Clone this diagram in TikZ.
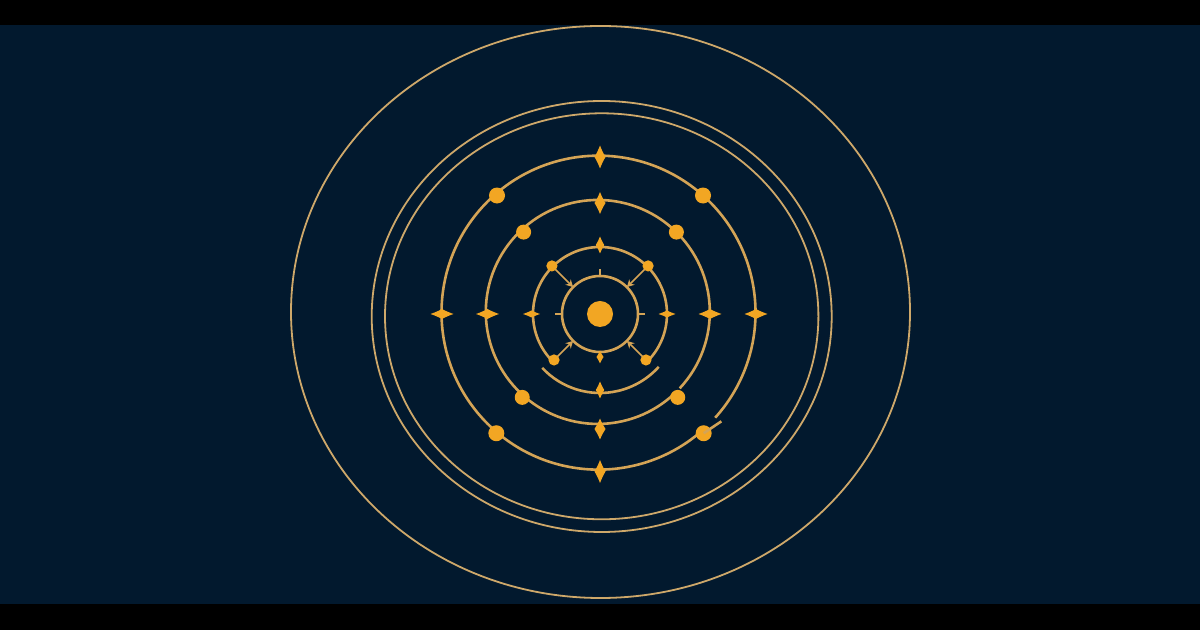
\documentclass[tikz,border=0pt]{standalone}
\usetikzlibrary{arrows.meta}
\definecolor{bgnavy}{RGB}{2,25,46}
\definecolor{ringc}{RGB}{212,164,86}
\definecolor{outerc}{RGB}{206,168,106}
\definecolor{dotc}{RGB}{242,166,35}
\tikzset{
  ring/.style={draw=ringc, line width=1.3mm},
  outerring/.style={draw=outerc, line width=0.9mm},
  dotnode/.style={circle, fill=dotc, inner sep=0pt, minimum size=#1},
  ptr/.style={draw=ringc, line width=0.8mm, shorten <=-0.5mm, -{Stealth[length=3.6mm,width=3.8mm]}},
}
\newcommand\gem[3]{%
  \fill[dotc, shift={(#1)}, xscale=#2, yscale=#3]
    (0,1) .. controls (0.3,0.62) and (0.62,0.3) .. (1,0)
          .. controls (0.62,-0.3) and (0.3,-0.62) .. (0,-1)
          .. controls (-0.3,-0.62) and (-0.62,-0.3) .. (-1,0)
          .. controls (-0.62,0.3) and (-0.3,0.62) .. (0,1) -- cycle;}
\begin{document}
\begin{tikzpicture}[x=0.5mm,y=0.5mm]
\useasboundingbox (0,0) rectangle (1200,630);
\fill[black] (0,0) rectangle (1200,630);
\fill[bgnavy] (0,26) rectangle (1200,605);

% outer ellipses
\draw[outerring] (600.5,318) ellipse [x radius=309.5, y radius=286];
\draw[outerring] (601.7,313.5) ellipse [x radius=230, y radius=215.5];
\draw[outerring] (601.7,313.7) ellipse [x radius=216.7, y radius=203];

\begin{scope}[shift={(600,316)}]
  % ring r=157
  \draw[ring] (-42:155) arc[start angle=-42, end angle=311, radius=157];
  % ring r=112
  \draw[ring] (-43:109) arc[start angle=-43, end angle=313, radius=112];
  % ring r=67 (open at bottom)
  \draw[ring] (-45:67) arc[start angle=-45, end angle=225, radius=67];
  % displaced lower arc
  \draw[ring] (223:79) arc[start angle=223, end angle=318, radius=79];
  % inner ring
  \draw[ring] (0,0) circle[radius=38];
  \draw[ring] (90:38) -- (90:45);
  \draw[ring] (180:38) -- (180:45);
  \draw[ring] (0:38) -- (0:45);

  % dots
  \node[dotnode=13mm] (core) at (0,0) {};
  \node[dotnode=8mm] (a1) at (131:157) {};
  \node[dotnode=8mm] (a2) at (49:157) {};
  \node[dotnode=8mm] (a3) at (229:158) {};
  \node[dotnode=8mm] (a4) at (311:158) {};
  \node[dotnode=7.5mm] (b1) at (133:112) {};
  \node[dotnode=7.5mm] (b2) at (47:112) {};
  \node[dotnode=7.5mm] (b3) at (227:114) {};
  \node[dotnode=7.5mm] (b4) at (313:114) {};
  \node[dotnode=5.6mm] (c1) at (135:68) {};
  \node[dotnode=5.6mm] (c2) at (45:68) {};
  \node[dotnode=5.6mm] (c3) at (225:65) {};
  \node[dotnode=5.6mm] (c4) at (315:65) {};

  % stub at lower right of ring 157
  \coordinate (s1) at (-41.5:162);
  \draw[ring] (a4.center) -- (s1);

  % arrows to inner ring
  \coordinate (t1) at (135:38);
  \coordinate (t2) at (45:38);
  \coordinate (t3) at (225:38);
  \coordinate (t4) at (315:38);
  \draw[ptr] (c1) -- (t1);
  \draw[ptr] (c2) -- (t2);
  \draw[ptr] (c3) -- (t3);
  \draw[ptr] (c4) -- (t4);

  % diamonds
  \gem{90:157}{5.5}{11.5}
  \gem{270:157.5}{5.5}{11.5}
  \gem{180:158}{11.5}{5}
  \gem{0:156}{11.5}{5}
  \gem{90:111}{5.5}{11}
  \gem{270:115}{5.5}{10.5}
  \gem{180:112.5}{11.5}{5}
  \gem{0:110}{11.5}{5}
  \gem{90:69}{4.2}{8.5}
  \gem{180:68.5}{8.5}{3.5}
  \gem{0:67}{8.5}{3.5}
  \gem{270:76}{4.2}{8.5}
  \gem{270:43}{3.5}{6.5}
\end{scope}
\end{tikzpicture}
\end{document}
